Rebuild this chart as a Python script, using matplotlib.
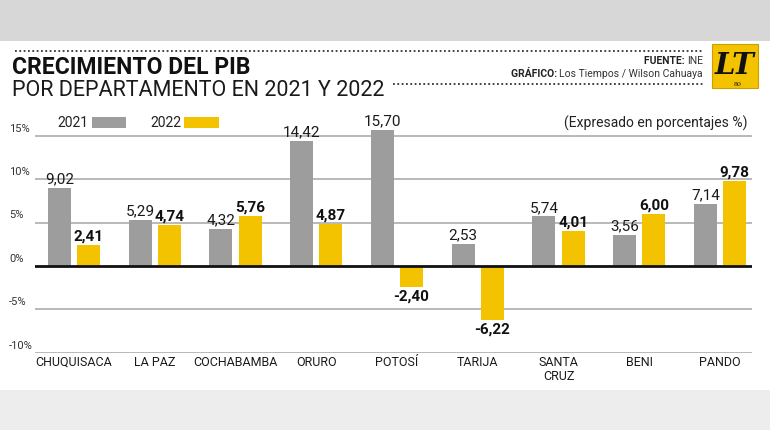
import matplotlib
matplotlib.use("Agg")
import matplotlib.pyplot as plt
from matplotlib.patches import Rectangle
from matplotlib.lines import Line2D
from matplotlib.transforms import blended_transform_factory
import numpy as np

# ---- data ----
categories = ["CHUQUISACA", "LA PAZ", "COCHABAMBA", "ORURO", "POTOSÍ",
              "TARIJA", "SANTA\nCRUZ", "BENI", "PANDO"]
values_2021 = [9.02, 5.29, 4.32, 14.42, 15.70, 2.53, 5.74, 3.56, 7.14]
values_2022 = [2.41, 4.74, 5.76, 4.87, -2.40, -6.22, 4.01, 6.00, 9.78]
series_labels = ["2021", "2022"]
y_ticks = [-10, -5, 0, 5, 10, 15]

title = "CRECIMIENTO DEL PIB"
subtitle = "POR DEPARTAMENTO EN 2021 Y 2022"
unit_note = "(Expresado en porcentajes %)"

GRAY = "#9d9d9d"
YELLOW = "#f4c300"
W, H = 770, 430
FONT = "Roboto"

plt.rcParams['font.family'] = [FONT, 'DejaVu Sans']

fig = plt.figure(figsize=(W / 100, H / 100), dpi=100, facecolor="white")

def fx(px):
    return px / W

def fy(py):
    return 1 - py / H

# background bands
fig.patches.append(Rectangle((0, fy(41)), 1, 41 / H, transform=fig.transFigure,
                             facecolor="#d7d7d7", edgecolor="none", zorder=0))
fig.patches.append(Rectangle((0, 0), 1, 40 / H, transform=fig.transFigure,
                             facecolor="#ededed", edgecolor="none", zorder=0))

# axes placement
ymin, ymax = -10, 17
px_per_unit = 8.67
y0_px = 266
top_px = y0_px - ymax * px_per_unit
bot_px = y0_px - ymin * px_per_unit
ax = fig.add_axes([fx(35), fy(bot_px), fx(752) - fx(35), (bot_px - top_px) / H])
ax.set_facecolor("none")
ax.set_xlim(-0.483, len(categories) - 1 + 0.396)
ax.set_ylim(ymin, ymax)
for s in ax.spines.values():
    s.set_visible(False)
ax.set_xticks([])
ax.set_yticks([])

# gridlines
for t in y_ticks:
    if t == 0:
        ax.axhline(0, color="#111111", lw=2.0, zorder=3)
    else:
        ax.axhline(t, color="#b3b3b3", lw=1.3, zorder=0)

# y tick labels (left aligned, sitting on gridline)
tr_fig_data = blended_transform_factory(fig.transFigure, ax.transData)
for t in y_ticks:
    ax.text(fx(9), t + 0.25, f"{t}%", transform=tr_fig_data, ha="left", va="bottom",
            fontsize=8, color="#333333", clip_on=False)

# bars
x = np.arange(len(categories))
bw = 0.285
off = 0.18
ax.bar(x - off, values_2021, width=bw, color=GRAY, zorder=2)
ax.bar(x + off, values_2022, width=bw, color=YELLOW, zorder=2)

def fmt(v):
    return f"{v:.2f}".replace(".", ",")

for xi, v in zip(x - off, values_2021):
    ax.annotate(fmt(v), (xi, v), xytext=(0, 1 if v >= 0 else -2), textcoords="offset points",
                ha="center", va="bottom" if v >= 0 else "top", fontsize=11,
                color="#1a1a1a", clip_on=False, annotation_clip=False)
for xi, v in zip(x + off, values_2022):
    ax.annotate(fmt(v), (xi, v), xytext=(0, 1 if v >= 0 else -2), textcoords="offset points",
                ha="center", va="bottom" if v >= 0 else "top", fontsize=11,
                fontweight="bold", color="#111111", clip_on=False, annotation_clip=False)

# category labels
tr_data_fig = blended_transform_factory(ax.transData, fig.transFigure)
for xi, c in zip(x, categories):
    ax.text(xi, fy(356), c, transform=tr_data_fig, ha="center", va="top",
            fontsize=9, color="#1a1a1a", linespacing=1.1, clip_on=False)

# title / subtitle
fig.text(fx(12), fy(74), title, fontsize=16.5, fontweight="bold", color="#111111",
         ha="left", va="baseline")
fig.text(fx(12), fy(96), subtitle, fontsize=15.5, fontweight="normal", color="#1a1a1a",
         ha="left", va="baseline")

# dotted rules
fig.lines.append(Line2D([fx(15), fx(703)], [fy(51), fy(51)], transform=fig.transFigure,
                        color="#333333", lw=1.3, linestyle=(0, (1, 1.4))))
fig.lines.append(Line2D([fx(393), fx(703)], [fy(84), fy(84)], transform=fig.transFigure,
                        color="#333333", lw=1.3, linestyle=(0, (1, 1.4))))

# credits with mixed weights
renderer = fig.canvas.get_renderer()

def mixed_right(x_right_px, y_px, bold_part, reg_part, size):
    t2 = fig.text(fx(x_right_px), fy(y_px), reg_part, fontsize=size, color="#333333",
                  ha="right", va="center")
    bb = t2.get_window_extent(renderer=renderer)
    fig.text(bb.x0 / W, fy(y_px), bold_part, fontsize=size, fontweight="bold",
             color="#222222", ha="right", va="center")

mixed_right(703, 61, "FUENTE: ", "INE", 7.5)
mixed_right(703, 74, "GRÁFICO: ", "Los Tiempos / Wilson Cahuaya", 7.5)

# logo
fig.patches.append(Rectangle((fx(712), fy(88)), 46 / W, 44 / H, transform=fig.transFigure,
                             facecolor=YELLOW, edgecolor="#c9a000", lw=0.8, zorder=2))
fig.text(fx(735), fy(65), "LT", fontsize=21, family="DejaVu Serif", fontweight="bold",
         fontstyle="italic", color="#111111", ha="center", va="center", zorder=3)
fig.text(fx(738), fy(84), "80", fontsize=4.5, family="DejaVu Serif", color="#111111",
         ha="center", va="center", zorder=3)

# legend
fig.text(fx(57), fy(123), series_labels[0], fontsize=10, color="#222222", ha="left", va="center")
fig.patches.append(Rectangle((fx(92), fy(128)), 34 / W, 11 / H, transform=fig.transFigure,
                             facecolor=GRAY, edgecolor="none"))
fig.text(fx(150), fy(123), series_labels[1], fontsize=10, color="#222222", ha="left", va="center")
fig.patches.append(Rectangle((fx(184), fy(128)), 35 / W, 11 / H, transform=fig.transFigure,
                             facecolor=YELLOW, edgecolor="none"))

# unit note
fig.text(fx(748), fy(123), unit_note, fontsize=10, color="#222222", ha="right", va="center")

fig.savefig("out.png", dpi=100, facecolor="white")
